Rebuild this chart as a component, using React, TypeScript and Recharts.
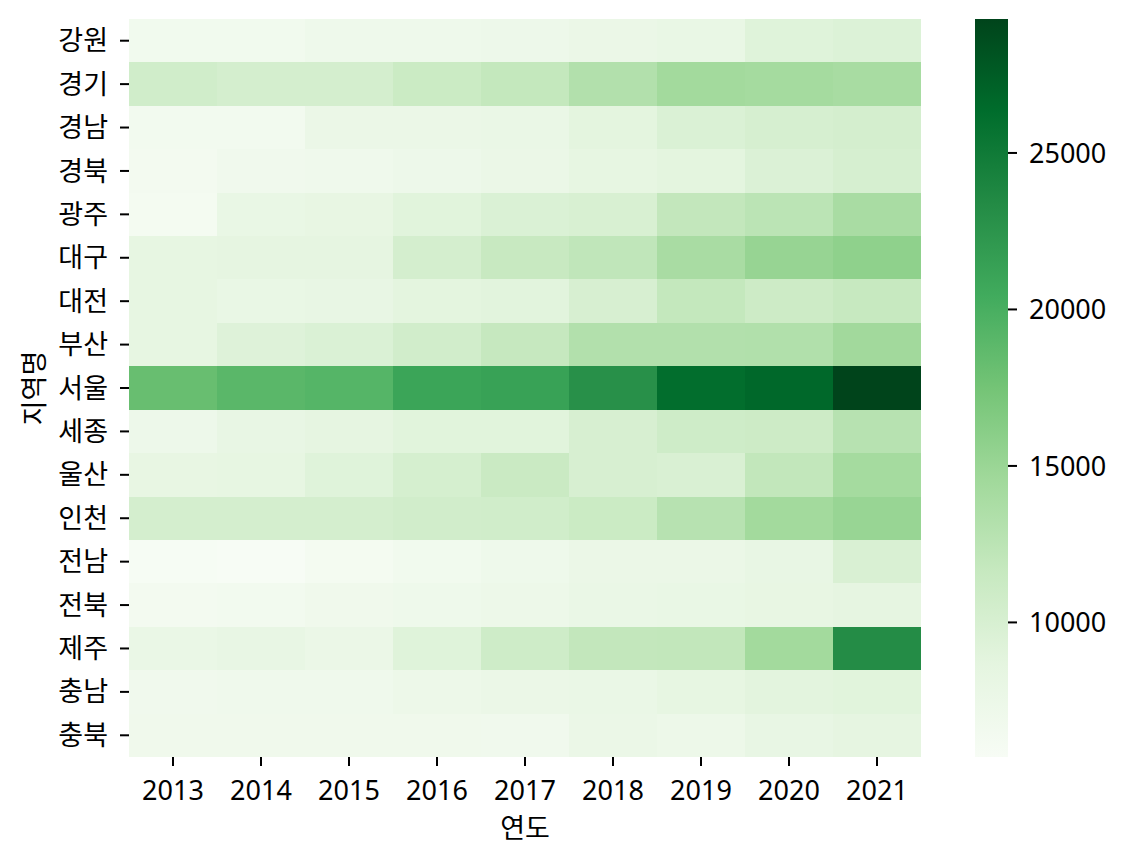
import { Bar, BarChart, Scatter, ScatterChart, XAxis, YAxis } from "recharts";

const years = ["2013", "2014", "2015", "2016", "2017", "2018", "2019", "2020", "2021"];
const regions = [
  "강원", "경기", "경남", "경북", "광주", "대구", "대전", "부산", "서울",
  "세종", "울산", "인천", "전남", "전북", "제주", "충남", "충북",
];

// one row per region, 2013..2021
const gangwon = [6650, 6700, 7100, 7100, 7300, 7600, 8000, 9200, 9500];
const gyeonggi = [10700, 10300, 10300, 11200, 11800, 13200, 14400, 14200, 14000];
const gyeongnam = [6600, 6500, 7600, 7700, 7800, 8700, 9700, 10100, 10300];
const gyeongbuk = [6400, 6800, 7000, 7300, 7700, 8400, 8700, 9600, 10100];
const gwangju = [6200, 8000, 8200, 9000, 9700, 9900, 11900, 12500, 13900];
const daegu = [8400, 8500, 8500, 10300, 11500, 12100, 13900, 15200, 15700];
const daejeon = [8300, 8000, 8100, 8700, 8900, 10000, 11800, 11000, 11600];
const busan = [8300, 9300, 9700, 10600, 11700, 13200, 13200, 13300, 14500];
const seoul = [18200, 19000, 19300, 21000, 21300, 22900, 26200, 26700, 29280];
const sejong = [7300, 8100, 8500, 9000, 9000, 10000, 10900, 11000, 12800];
const ulsan = [8200, 8300, 9200, 10200, 11300, 10000, 9800, 12000, 14200];
const incheon = [10300, 10300, 10300, 10600, 10700, 11200, 12800, 14400, 15100];
const jeonnam = [5900, 5700, 6200, 6700, 7100, 7600, 7700, 8100, 9800];
const jeonbuk = [6400, 6600, 6900, 7100, 7400, 7800, 8000, 8200, 8500];
const jeju = [7800, 8100, 7600, 9200, 10900, 11900, 12000, 14400, 23300];
const chungnam = [6800, 7000, 7000, 7400, 7700, 7800, 8300, 8800, 9000];
const chungbuk = [6900, 6900, 6900, 6900, 6800, 7700, 7400, 8100, 8500];

const rows = [
  gangwon, gyeonggi, gyeongnam, gyeongbuk, gwangju, daegu, daejeon, busan, seoul,
  sejong, ulsan, incheon, jeonnam, jeonbuk, jeju, chungnam, chungbuk,
];
const cbarTicks = [10000, 15000, 20000, 25000];

const GREENS = ["#f7fcf5", "#e5f5e0", "#c7e9c0", "#a1d99b", "#74c476", "#41ab5d", "#238b45", "#006d2c", "#00441b"];
const FONT = '"Noto Sans", "Noto Sans CJK KR", sans-serif';
const FS = 27;

const all = rows.flat();
const VMIN = Math.min(...all);
const VMAX = Math.max(...all);

const cells = rows.flatMap((r, yi) => r.map((v, xi) => ({ x: xi, y: yi, v })));

// plot box
const PLOT_W = 792;
const PLOT_H = 738;
const CELL_W = PLOT_W / years.length;
const CELL_H = PLOT_H / regions.length;

function hex(c: string) {
  return [1, 3, 5].map((i) => parseInt(c.slice(i, i + 2), 16));
}

function colorFor(v: number) {
  const t = Math.min(1, Math.max(0, (v - VMIN) / (VMAX - VMIN)));
  const pos = t * (GREENS.length - 1);
  const i = Math.min(GREENS.length - 2, Math.floor(pos));
  const f = pos - i;
  const a = hex(GREENS[i]);
  const b = hex(GREENS[i + 1]);
  const c = a.map((ch, k) => Math.round(ch + (b[k] - ch) * f));
  return `rgb(${c[0]},${c[1]},${c[2]})`;
}

function HeatCell(props: any) {
  const { cx, cy, payload } = props;
  return (
    <rect
      x={cx - CELL_W / 2}
      y={cy - CELL_H / 2}
      width={CELL_W}
      height={CELL_H}
      fill={colorFor(payload.v)}
      shapeRendering="crispEdges"
    />
  );
}

const tickStyle = { fill: "#000", fontSize: FS, fontFamily: FONT };
const tickLine = { stroke: "#000", strokeWidth: 2 };

export default function App() {
  return (
    <div style={{ position: "absolute", left: 0, top: 0, width: 1132, height: 861, background: "#fff", fontFamily: FONT }}>
      <div style={{ position: "absolute", left: 0, top: 0 }}>
        <ScatterChart width={940} height={861} margin={{ top: 19, right: 19, bottom: 0, left: 0 }}>
          <XAxis
            type="number"
            dataKey="x"
            domain={[-0.5, 8.5]}
            ticks={years.map((_, i) => i)}
            tickFormatter={(i: number) => years[i]}
            interval={0}
            height={104}
            axisLine={false}
            tickSize={9}
            tickMargin={15}
            tickLine={tickLine}
            tick={tickStyle}
            label={{
              content: () => (
                <text x={525} y={838} textAnchor="middle" fontSize={FS} fontFamily={FONT} fill="#000">
                  연도
                </text>
              ),
            }}
          />
          <YAxis
            type="number"
            dataKey="y"
            domain={[-0.5, 16.5]}
            reversed
            ticks={regions.map((_, i) => i)}
            tickFormatter={(i: number) => regions[i]}
            interval={0}
            width={129}
            axisLine={false}
            tickSize={9}
            tickMargin={12}
            tickLine={tickLine}
            tick={tickStyle}
            label={{
              content: () => (
                <text
                  x={33}
                  y={388}
                  transform="rotate(-90, 33, 388)"
                  textAnchor="middle"
                  dominantBaseline="central"
                  fontSize={FS}
                  fontFamily={FONT}
                  fill="#000"
                >
                  지역명
                </text>
              ),
            }}
          />
          <Scatter data={cells} shape={HeatCell} isAnimationActive={false} />
        </ScatterChart>
      </div>
      <div style={{ position: "absolute", left: 975, top: 0 }}>
        <BarChart
          width={157}
          height={861}
          data={[{ name: "cbar", range: [VMIN, VMAX] }]}
          margin={{ top: 19, right: 0, bottom: 104, left: 0 }}
          barCategoryGap={0}
        >
          <defs>
            <linearGradient id="greensBar" x1="0" y1="1" x2="0" y2="0">
              {GREENS.map((c, i) => (
                <stop key={c} offset={`${(i / (GREENS.length - 1)) * 100}%`} stopColor={c} />
              ))}
            </linearGradient>
          </defs>
          <XAxis dataKey="name" hide />
          <YAxis
            orientation="right"
            type="number"
            domain={[VMIN, VMAX]}
            allowDataOverflow
            ticks={cbarTicks}
            width={124}
            axisLine={false}
            tickSize={9}
            tickMargin={12}
            tickLine={tickLine}
            tick={tickStyle}
          />
          <Bar dataKey="range" fill="url(#greensBar)" isAnimationActive={false} />
        </BarChart>
      </div>
    </div>
  );
}
